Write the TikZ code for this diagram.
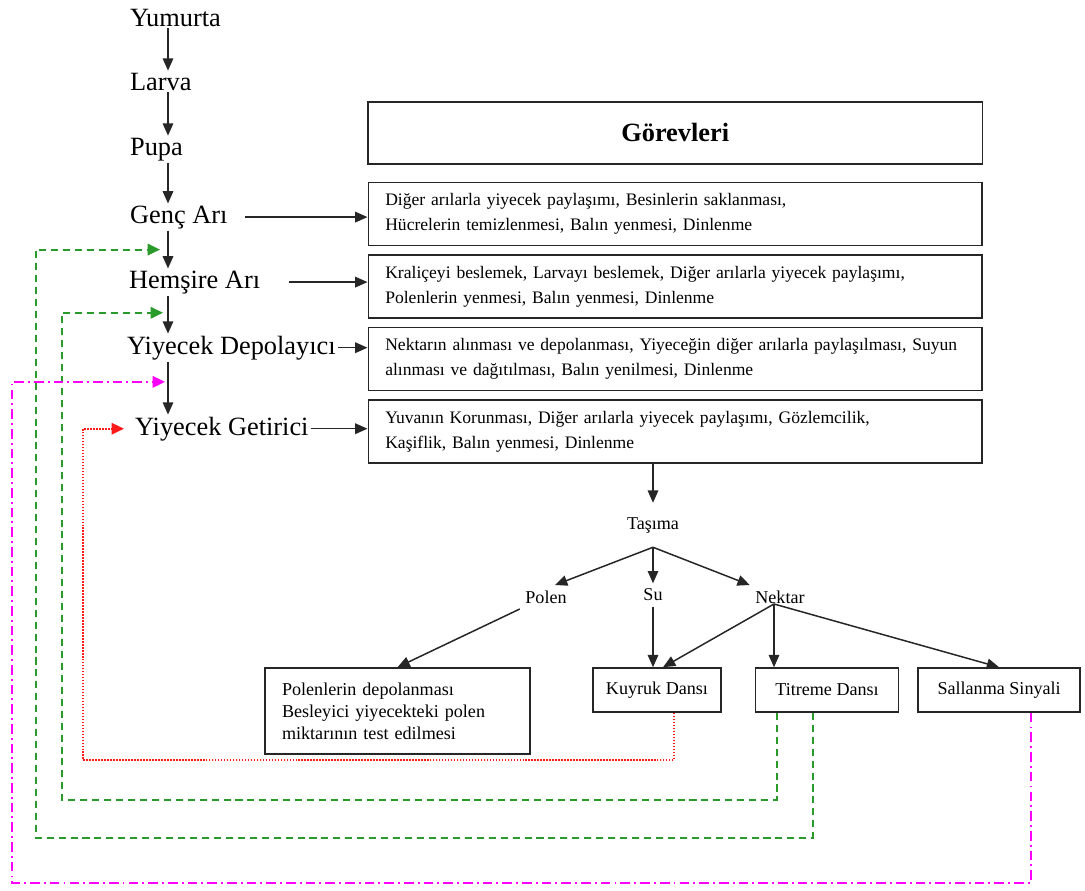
\documentclass[tikz,border=0pt]{standalone}
\usepackage{fontspec}
\setmainfont{Liberation Serif}
\usepackage{xcolor}
\usepackage{tikz}
\usetikzlibrary{arrows.meta, positioning, calc}
\definecolor{myline}{HTML}{262626}
\definecolor{mygreen}{HTML}{2A9A2A}
\definecolor{mymagenta}{HTML}{FF00FF}
\definecolor{myred}{HTML}{FF1A1A}
\tikzset{
stage/.style={
font=\fontsize{15}{17}\selectfont,
anchor=base west,
inner sep=1pt
},
headbox/.style={
draw=myline,
line width=0.9pt,
minimum width=12.3cm,
minimum height=1.24cm,
font=\fontsize{15}{17}\selectfont\bfseries,
anchor=north west
},
taskbox/.style={
draw=myline,
line width=0.9pt,
text width=11.6cm,
inner xsep=0.34cm,
minimum height=1.26cm,
align=left,
font=\fontsize{10}{14.2}\selectfont
},
polenbox/.style={
draw=myline,
line width=0.9pt,
text width=4.62cm,
inner xsep=0.34cm,
minimum height=1.72cm,
align=left,
font=\fontsize{10.3}{12.5}\selectfont
},
dancebox/.style={
draw=myline,
line width=0.9pt,
minimum height=0.88cm,
font=\fontsize{10.3}{12.5}\selectfont
},
treelabel/.style={
font=\fontsize{10.3}{12.5}\selectfont,
inner sep=3pt
},
flow/.style={
-{Triangle[length=7pt,width=6pt]},
line width=0.85pt,
draw=myline
}
}

\begin{document}
\begin{tikzpicture}[
x=0.02cm, y=-0.02cm
]

\tikzset{
  greenloop/.style={
    -{Triangle[length=7pt,width=6.5pt]},
    line width=1.1pt,
    draw=mygreen,
    dash pattern=on 4pt off 2.8pt
  },
  pinkloop/.style={
    -{Triangle[length=7pt,width=6.5pt]},
    line width=1.1pt,
    draw=mymagenta,
    dash pattern=on 5.5pt off 2.3pt on 1.1pt off 2.3pt
  },
  redloop/.style={
    -{Triangle[length=7pt,width=6.5pt]},
    line width=0.9pt,
    draw=myred,
    dash pattern=on 0.9pt off 0.8pt
  }
}

\useasboundingbox (0,0) rectangle (1085,890);

\node[stage] (yumurta) at (128,26) {Yumurta};
\node[stage] (larva) at (128,90) {Larva};
\node[stage] (pupa) at (128,155) {Pupa};
\node[stage] (genc) at (128,223) {Genç Arı};
\node[stage] (hemsire) at (127,288) {Hemşire Arı};
\node[stage] (depolayici) at (125,354) {Yiyecek Depolayıcı};
\node[stage] (getirici) at (133,435) {Yiyecek Getirici};
\coordinate (col) at (168,0);

\draw[flow] (yumurta.south -| col) -- (larva.north -| col);
\draw[flow] (larva.south -| col) -- (pupa.north -| col);
\draw[flow] (pupa.south -| col) -- (genc.north -| col);
\draw[flow] (genc.south -| col) -- (hemsire.north -| col);
\draw[flow] (hemsire.south -| col) -- (depolayici.north -| col);
\draw[flow] (depolayici.south -| col) -- (getirici.north -| col);

\node[headbox] (gorevler) at (367,101) {Görevleri};
\node[taskbox, below=0.34cm of gorevler] (task1)
  {Diğer arılarla yiyecek paylaşımı, Besinlerin saklanması,\\
   Hücrelerin temizlenmesi, Balın yenmesi, Dinlenme};
\node[taskbox, below=0.16cm of task1] (task2)
  {Kraliçeyi beslemek, Larvayı beslemek, Diğer arılarla yiyecek paylaşımı,\\
   Polenlerin yenmesi, Balın yenmesi, Dinlenme};
\node[taskbox, below=0.16cm of task2] (task3)
  {Nektarın alınması ve depolanması, Yiyeceğin diğer arılarla paylaşılması, Suyun\\
   alınması ve dağıtılması, Balın yenilmesi, Dinlenme};
\node[taskbox, below=0.16cm of task3] (task4)
  {Yuvanın Korunması, Diğer arılarla yiyecek paylaşımı, Gözlemcilik,\\
   Kaşiflik, Balın yenmesi, Dinlenme};

\draw[flow] ([xshift=0.3cm]genc.east) -- (genc.east -| task1.west);
\draw[flow] ([xshift=0.54cm]hemsire.east) -- (hemsire.east -| task2.west);
\draw[flow] (depolayici.east) -- (depolayici.east -| task3.west);
\draw[flow] (getirici.east) -- (getirici.east -| task4.west);

\node[treelabel, inner ysep=8pt] (tasima) at (653,525) {Taşıma};
\node[treelabel] (polen) at (546,597) {Polen};
\node[treelabel] (su) at (653,595) {Su};
\node[treelabel] (nektar) at (780,597) {Nektar};
\coordinate (nk) at ([xshift=-0.12cm,yshift=0.1cm]nektar.south);

\node[polenbox] (polenler) at (397.5,711)
  {Polenlerin depolanması\\Besleyici yiyecekteki polen\\miktarının test edilmesi};
\node[dancebox, minimum width=2.56cm] (kuyruk) at (657,690) {Kuyruk Dansı};
\node[dancebox, minimum width=2.86cm, right=0.66cm of kuyruk] (titreme) {Titreme Dansı};
\node[dancebox, minimum width=3.24cm, right=0.36cm of titreme] (sallanma) {Sallanma Sinyali};

\draw[flow] (task4.south -| tasima) -- (tasima.north);
\draw[flow] (tasima.south) -- ([xshift=0.18cm]polen.north);
\draw[flow] (tasima.south) -- (su.north);
\draw[flow] (tasima.south) -- (nektar.north west);
\draw[flow] (polen.south west) -- (polenler.north);
\draw[flow] (su.south) -- (su |- kuyruk.north);
\draw[flow] (nk) -- ([xshift=0.12cm]kuyruk.north);
\draw[flow] (nk) -- (nk |- titreme.north);
\draw[flow] (nk) -- (sallanma.north);

\coordinate (gapGencHemsire) at ($(genc.south -| col)!0.5!(hemsire.north -| col)+(-8,0)$);
\coordinate (gapHemsireDepo) at ($(hemsire.south -| col)!0.45!(depolayici.north -| col)+(-5,0)$);
\coordinate (gapDepoGetirici) at ($(depolayici.south -| col)!0.38!(getirici.north -| col)+(-3,0)$);
\coordinate (inGetirici) at ([xshift=-0.18cm]getirici.west);
\coordinate (redlane) at (83,760);
\coordinate (greenlaneA) at (62,800);
\coordinate (greenlaneB) at (36,838);
\coordinate (pinklane) at (12,883);

\draw[redloop] ([xshift=0.34cm]kuyruk.south) |- (redlane) |- (inGetirici);
\draw[greenloop] ([xshift=-1.01cm]titreme.south) |- (greenlaneA) |- (gapHemsireDepo);
\draw[greenloop] ([xshift=-0.29cm]titreme.south) |- (greenlaneB) |- (gapGencHemsire);
\draw[pinkloop] ([xshift=0.63cm]sallanma.south) |- (pinklane) |- (gapDepoGetirici);

\end{tikzpicture}
\end{document}
